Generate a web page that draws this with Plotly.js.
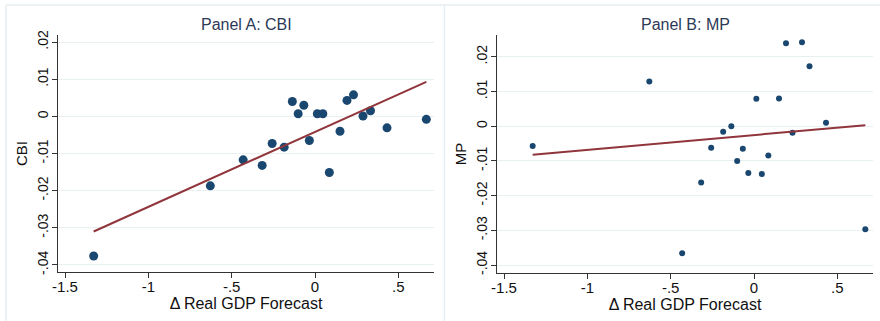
<!DOCTYPE html>
<html>
<head>
<meta charset="utf-8">
<script src="https://cdn.plot.ly/plotly-3.0.1.min.js"></script>
<style>
  html, body { margin: 0; padding: 0; background: #ffffff; }
  #chart { width: 880px; height: 321px; }
</style>
</head>
<body>
<div id="chart"></div>
<script>
// Δ Real GDP Forecast (shared x for both panels)
const gdpForecast = [-1.328, -0.628, -0.431, -0.317, -0.257, -0.185, -0.136, -0.101, -0.067, -0.034,
                      0.014,  0.047,  0.086,  0.150,  0.192,  0.231,  0.288,  0.333,  0.432,  0.668];
// Panel A: CBI
const cbi = [-0.0376, -0.0187, -0.0117, -0.0132, -0.0073, -0.0083, 0.0040, 0.0007, 0.0030, -0.0065,
              0.0007,  0.0007, -0.0151, -0.0040,  0.0043,  0.0058, 0.0001, 0.0015, -0.0031, -0.0008];
// Panel B: MP
const mp = [-0.0057, 0.0129, -0.0366, -0.0162, -0.0062, -0.0016, 0.0000, -0.0100, -0.0065, -0.0135,
             0.0079, -0.0138, -0.0084, 0.0080, 0.0239, -0.0019, 0.0242, 0.0173, 0.0010, -0.0297];
// Fitted lines
const fitX = [-1.328, 0.668];
const fitCbi = [-0.0310, 0.0093];
const fitMp = [-0.0082, 0.0003];
// Tick labels
const xTickVals = [-1.5, -1, -0.5, 0, 0.5];
const xTickText = ['-1.5', '-1', '-.5', '0', '.5'];
const yTickVals = [-0.04, -0.03, -0.02, -0.01, 0, 0.01, 0.02];
const yTickText = ['-.04', '-.03', '-.02', '-.01', '0', '.01', '.02'];
const titles = ['Panel A: CBI', 'Panel B: MP'];
const yTitles = ['CBI', 'MP'];
const xTitle = 'Δ Real GDP Forecast';

const navy = '#1a476f';
const maroon = '#90353b';
const W = 880, H = 321;
const fontFam = 'Arial, "Liberation Sans", Helvetica, sans-serif';

const traces = [
  {x: gdpForecast, y: cbi, type: 'scatter', mode: 'markers', xaxis: 'x', yaxis: 'y',
   marker: {color: navy, size: 9, line: {width: 0}}, hoverinfo: 'skip'},
  {x: fitX, y: fitCbi, type: 'scatter', mode: 'lines', xaxis: 'x', yaxis: 'y',
   line: {color: maroon, width: 2}, hoverinfo: 'skip'},
  {x: gdpForecast, y: mp, type: 'scatter', mode: 'markers', xaxis: 'x2', yaxis: 'y2',
   marker: {color: navy, size: 6, line: {width: 0}}, hoverinfo: 'skip'},
  {x: fitX, y: fitMp, type: 'scatter', mode: 'lines', xaxis: 'x2', yaxis: 'y2',
   line: {color: maroon, width: 2}, hoverinfo: 'skip'}
];

function xAxis(domain, anchor) {
  return {
    domain: domain, anchor: anchor, range: [-1.542, 0.714],
    tickvals: xTickVals, ticktext: xTickText,
    ticks: 'outside', ticklen: 5, tickcolor: '#333', tickwidth: 1,
    ticklabelstandoff: -4,
    showline: true, linecolor: '#333', linewidth: 1,
    showgrid: false, zeroline: false,
    tickfont: {family: fontFam, size: 15, color: '#111'},
    title: {text: xTitle, font: {family: fontFam, size: 16, color: '#111'}, standoff: 0},
    automargin: false, fixedrange: true
  };
}
function yAxis(domain, anchor, range, title) {
  return {
    domain: domain, anchor: anchor, range: range,
    tickvals: yTickVals, ticktext: yTickText, tickangle: -90,
    ticks: 'outside', ticklen: 5, tickcolor: '#333', tickwidth: 1,
    ticklabelstandoff: -2,
    showline: true, linecolor: '#333', linewidth: 1,
    showgrid: true, gridcolor: '#e8f0f2', gridwidth: 1, zeroline: false,
    tickfont: {family: fontFam, size: 14, color: '#111'},
    title: {text: title, font: {family: fontFam, size: 15, color: '#111'}, standoff: 4},
    automargin: false, fixedrange: true
  };
}

const frameColor = '#e6eef1';
const layout = {
  width: W, height: H,
  margin: {l: 0, r: 0, t: 0, b: 0, pad: 0},
  paper_bgcolor: '#ffffff', plot_bgcolor: '#ffffff',
  showlegend: false,
  xaxis: xAxis([58 / W, 434 / W], 'y'),
  yaxis: yAxis([1 - 272 / H, 1 - 35 / H], 'x', [-0.0419, 0.0219], yTitles[0]),
  xaxis2: xAxis([497 / W, 873 / W], 'y2'),
  yaxis2: yAxis([1 - 273 / H, 1 - 35 / H], 'x2', [-0.0423, 0.0263], yTitles[1]),
  annotations: [
    {text: titles[0], x: 246 / W, y: 1 - 24 / H, xref: 'paper', yref: 'paper',
     xanchor: 'center', yanchor: 'middle', showarrow: false,
     font: {family: fontFam, size: 16, color: '#2c3a57'}},
    {text: titles[1], x: 685 / W, y: 1 - 24 / H, xref: 'paper', yref: 'paper',
     xanchor: 'center', yanchor: 'middle', showarrow: false,
     font: {family: fontFam, size: 16, color: '#2c3a57'}}
  ],
  shapes: [
    {type: 'line', xref: 'paper', yref: 'paper', x0: 6 / W, x1: 6 / W, y0: 0, y1: 1 - 5 / H,
     line: {color: frameColor, width: 1.5}},
    {type: 'line', xref: 'paper', yref: 'paper', x0: 6 / W, x1: 1, y0: 1 - 5 / H, y1: 1 - 5 / H,
     line: {color: frameColor, width: 1.5}},
    {type: 'line', xref: 'paper', yref: 'paper', x0: 444.5 / W, x1: 444.5 / W, y0: 0, y1: 1 - 5 / H,
     line: {color: frameColor, width: 1.5}}
  ]
};

Plotly.newPlot('chart', traces, layout, {displayModeBar: false, staticPlot: true});
</script>
</body>
</html>
